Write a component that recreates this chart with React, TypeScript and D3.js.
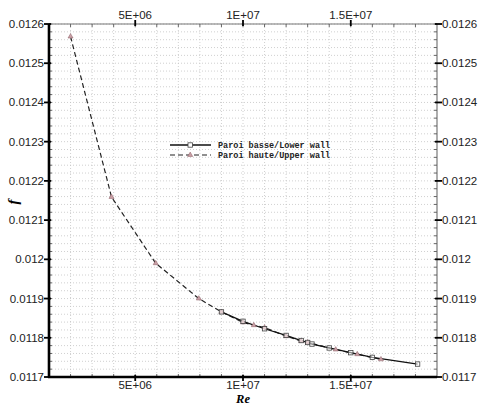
import { useMemo } from "react";
import * as d3 from "d3";

// Paroi basse / Lower wall (solid, open squares)
const lowerRe = [9e6, 1.0e7, 1.1e7, 1.2e7, 1.27e7, 1.3e7, 1.32e7, 1.4e7, 1.5e7, 1.6e7, 1.81e7];
const lowerF = [0.011866, 0.011842, 0.011823, 0.011806, 0.011793, 0.011788, 0.011784, 0.011774, 0.011762, 0.01175, 0.011733];

// Paroi haute / Upper wall (dashed, triangles)
const upperRe = [2e6, 3.9e6, 5.95e6, 7.95e6, 9e6, 1.0e7, 1.05e7, 1.1e7, 1.2e7, 1.27e7, 1.3e7, 1.43e7, 1.53e7, 1.64e7];
const upperF = [0.012568, 0.012159, 0.01199, 0.0119, 0.011866, 0.011839, 0.011832, 0.011826, 0.011804, 0.011792, 0.011788, 0.01177, 0.011758, 0.011745];

const xTicks = [5e6, 1e7, 1.5e7];
const xTickLabels = ["5E+06", "1E+07", "1.5E+07"];
const yTicks = [0.0117, 0.0118, 0.0119, 0.012, 0.0121, 0.0122, 0.0123, 0.0124, 0.0125, 0.0126];
const yTickLabels = ["0.0117", "0.0118", "0.0119", "0.012", "0.0121", "0.0122", "0.0123", "0.0124", "0.0125", "0.0126"];
const legendLabels = ["Paroi basse/Lower wall", "Paroi haute/Upper wall"];

const W = 480;
const H = 405;
const M = { left: 49, right: 437, top: 24, bottom: 377 };

export default function App() {
  const x = useMemo(() => d3.scaleLinear().domain([1e6, 1.9e7]).range([M.left, M.right]), []);
  const y = useMemo(() => d3.scaleLinear().domain([0.0117, 0.0126]).range([M.bottom, M.top]), []);

  const xMinor = d3.range(2e6, 1.9e7, 1e6);
  const yMinor = d3.range(0, 46).map((i) => 0.0117 + i * 0.00002);

  const line = d3
    .line<[number, number]>()
    .x((d) => x(d[0]))
    .y((d) => y(d[1]));

  const lowerPts = lowerRe.map((r, i) => [r, lowerF[i]] as [number, number]);
  const upperPts = upperRe.map((r, i) => [r, upperF[i]] as [number, number]);

  const tri = d3.symbol().type(d3.symbolTriangle).size(11)() ?? "";
  const font = "'Liberation Sans', Arial, sans-serif";

  return (
    <svg
      width={W}
      height={H}
      style={{ position: "absolute", left: 0, top: 0, background: "#fff" }}
    >
      {/* grid */}
      <g stroke="#c4c4c4" strokeWidth={0.8} strokeDasharray="1 2">
        {xMinor.map((v) => (
          <line key={"gx" + v} x1={x(v)} x2={x(v)} y1={M.top} y2={M.bottom} />
        ))}
        {yMinor.map((v, i) => (
          <line key={"gy" + i} x1={M.left} x2={M.right} y1={y(v)} y2={y(v)} />
        ))}
      </g>

      {/* top & right axes (gray) */}
      <line x1={M.left} x2={M.right} y1={M.top} y2={M.top} stroke="#777" strokeWidth={1.2} />
      <line x1={M.right} x2={M.right} y1={M.top} y2={M.bottom} stroke="#777" strokeWidth={1.2} />

      {/* minor ticks */}
      <g stroke="#666" strokeWidth={1}>
        {xMinor.map((v) => (
          <g key={"mx" + v}>
            <line x1={x(v)} x2={x(v)} y1={M.top} y2={M.top + 3} />
            <line x1={x(v)} x2={x(v)} y1={M.bottom} y2={M.bottom - 3} />
          </g>
        ))}
        {yMinor.map((v, i) => (
          <g key={"my" + i}>
            <line x1={M.left} x2={M.left + 3} y1={y(v)} y2={y(v)} />
            <line x1={M.right} x2={M.right - 3} y1={y(v)} y2={y(v)} />
          </g>
        ))}
      </g>

      {/* major ticks */}
      <g stroke="#000" strokeWidth={1.8}>
        {xTicks.map((v) => (
          <g key={"tx" + v}>
            <line x1={x(v)} x2={x(v)} y1={M.top - 4} y2={M.top + 2} />
            <line x1={x(v)} x2={x(v)} y1={M.bottom + 4} y2={M.bottom - 2} />
          </g>
        ))}
        {yTicks.map((v) => (
          <g key={"ty" + v}>
            <line x1={M.left - 5} x2={M.left + 2} y1={y(v)} y2={y(v)} />
            <line x1={M.right + 5} x2={M.right - 2} y1={y(v)} y2={y(v)} />
          </g>
        ))}
      </g>

      {/* bottom & left axes (thick black) */}
      <line x1={M.left - 1} x2={M.right} y1={M.bottom} y2={M.bottom} stroke="#000" strokeWidth={2.6} />
      <line x1={M.left} x2={M.left} y1={M.top} y2={M.bottom + 1} stroke="#000" strokeWidth={2.6} />

      {/* tick labels */}
      <g fontFamily={font} fontSize={11.5} fill="#222">
        {xTicks.map((v, i) => (
          <g key={"lx" + v}>
            <text x={x(v)} y={M.top - 5} textAnchor="middle">{xTickLabels[i]}</text>
            <text x={x(v)} y={M.bottom + 12} textAnchor="middle">{xTickLabels[i]}</text>
          </g>
        ))}
        {yTicks.map((v, i) => (
          <g key={"ly" + v}>
            <text x={M.left - 5} y={y(v)} dy="0.35em" textAnchor="end">{yTickLabels[i]}</text>
            <text x={M.right + 5} y={y(v)} dy="0.35em" textAnchor="start">{yTickLabels[i]}</text>
          </g>
        ))}
      </g>

      {/* axis titles */}
      <text
        x={243}
        y={403}
        textAnchor="middle"
        fontFamily="'Liberation Serif', 'Times New Roman', serif"
        fontStyle="italic"
        fontWeight="bold"
        fontSize={12.5}
      >
        Re
      </text>
      <text
        transform="translate(18,202) rotate(-90)"
        textAnchor="middle"
        fontFamily="'Liberation Serif', 'Times New Roman', serif"
        fontStyle="italic"
        fontWeight="bold"
        fontSize={15}
      >
        f
      </text>

      {/* series */}
      <path d={line(upperPts) ?? ""} fill="none" stroke="#222" strokeWidth={1.2} strokeDasharray="5 3" />
      <path d={line(lowerPts) ?? ""} fill="none" stroke="#111" strokeWidth={1.3} />
      {upperPts.map((p, i) => (
        <path
          key={"u" + i}
          d={tri}
          transform={`translate(${x(p[0])},${y(p[1])})`}
          fill="#c9a0a6"
          stroke="#8a5a62"
          strokeWidth={0.5}
        />
      ))}
      {lowerPts.map((p, i) => (
        <rect
          key={"l" + i}
          x={x(p[0]) - 2.2}
          y={y(p[1]) - 2.2}
          width={4.4}
          height={4.4}
          fill="#fff"
          fillOpacity={0.5}
          stroke="#444"
          strokeWidth={0.8}
        />
      ))}

      {/* legend */}
      <g fontFamily="'Liberation Mono', 'Courier New', monospace" fontSize={8.5} fontWeight="bold" fill="#222">
        <line x1={170} x2={211} y1={145} y2={145} stroke="#111" strokeWidth={1.3} />
        <rect x={188} y={142.8} width={4.4} height={4.4} fill="#fff" stroke="#444" strokeWidth={0.8} />
        <text x={218} y={145} dy="0.35em">{legendLabels[0]}</text>
        <line x1={170} x2={211} y1={155} y2={155} stroke="#222" strokeWidth={1.2} strokeDasharray="5 3" />
        <path d={tri} transform="translate(190.2,155)" fill="#c9a0a6" stroke="#8a5a62" strokeWidth={0.5} />
        <text x={218} y={155} dy="0.35em">{legendLabels[1]}</text>
      </g>
    </svg>
  );
}
